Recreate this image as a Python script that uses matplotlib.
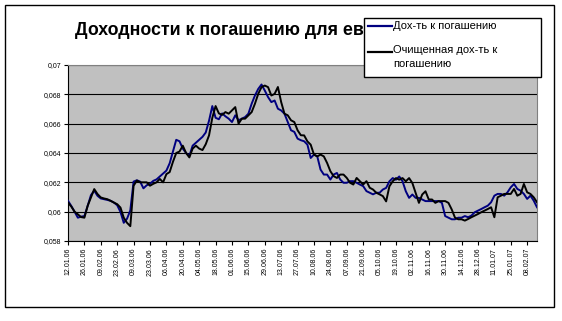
import numpy as np
import matplotlib
matplotlib.use("Agg")
import matplotlib.pyplot as plt
from matplotlib.patches import Rectangle
from matplotlib.lines import Line2D

plt.rcParams['font.family'] = ['Liberation Sans', 'DejaVu Sans']

# samples every 2 business days, 12.01.06 .. ~14.02.07
ytm = [0.06074, 0.06039, 0.06000, 0.05959, 0.05966, 0.05970, 0.06040, 0.06113, 0.06143, 0.06108,
       0.06090, 0.06085, 0.06080, 0.06074, 0.06062, 0.06044, 0.05998, 0.05924, 0.05952, 0.06009,
       0.06205, 0.06214, 0.06205, 0.06159, 0.06180, 0.06190, 0.06210, 0.06220, 0.06240, 0.06260,
       0.06280, 0.06330, 0.06410, 0.06490, 0.06480, 0.06430, 0.06400, 0.06380, 0.06450, 0.06470,
       0.06490, 0.06510, 0.06540, 0.06620, 0.06720, 0.06640, 0.06630, 0.06670, 0.06650, 0.06634,
       0.06611, 0.06657, 0.06623, 0.06634, 0.06645, 0.06668, 0.06736, 0.06792, 0.06837, 0.06867,
       0.06826, 0.06781, 0.06747, 0.06758, 0.06702, 0.06690, 0.06668, 0.06611, 0.06555, 0.06544,
       0.06498, 0.06487, 0.06480, 0.06457, 0.06366, 0.06389, 0.06377, 0.06287, 0.06253, 0.06253,
       0.06219, 0.06253, 0.06264, 0.06219, 0.06197, 0.06197, 0.06208, 0.06208, 0.06197, 0.06185,
       0.06174, 0.06140, 0.06129, 0.06118, 0.06129, 0.06129, 0.06151, 0.06162, 0.06207, 0.06229,
       0.06218, 0.06240, 0.06207, 0.06139, 0.06094, 0.06117, 0.06094, 0.06094, 0.06083, 0.06072,
       0.06072, 0.06072, 0.06072, 0.06072, 0.06060, 0.05970, 0.05959, 0.05948, 0.05948, 0.05959,
       0.05959, 0.05970, 0.05962, 0.05973, 0.05996, 0.06007, 0.06018, 0.06030, 0.06041, 0.06064,
       0.06109, 0.06121, 0.06121, 0.06109, 0.06132, 0.06166, 0.06189, 0.06155, 0.06143, 0.06121,
       0.06087, 0.06109, 0.06075, 0.06030]

ytm_clean = [0.06062, 0.06035, 0.06000, 0.05982, 0.05963, 0.05959, 0.06040, 0.06097, 0.06154, 0.06120,
             0.06097, 0.06090, 0.06085, 0.06074, 0.06062, 0.06051, 0.06028, 0.05959, 0.05924, 0.05901,
             0.06177, 0.06212, 0.06200, 0.06200, 0.06200, 0.06177, 0.06190, 0.06200, 0.06223, 0.06200,
             0.06256, 0.06270, 0.06340, 0.06400, 0.06410, 0.06450, 0.06400, 0.06370, 0.06430, 0.06450,
             0.06430, 0.06420, 0.06460, 0.06520, 0.06640, 0.06720, 0.06670, 0.06660, 0.06679, 0.06668,
             0.06690, 0.06713, 0.06600, 0.06634, 0.06634, 0.06657, 0.06679, 0.06736, 0.06803, 0.06849,
             0.06860, 0.06849, 0.06792, 0.06803, 0.06850, 0.06747, 0.06668, 0.06657, 0.06623, 0.06611,
             0.06555, 0.06521, 0.06520, 0.06479, 0.06457, 0.06389, 0.06377, 0.06389, 0.06377, 0.06332,
             0.06276, 0.06242, 0.06230, 0.06253, 0.06253, 0.06230, 0.06197, 0.06185, 0.06230, 0.06208,
             0.06185, 0.06208, 0.06163, 0.06151, 0.06129, 0.06118, 0.06106, 0.06070, 0.06173, 0.06207,
             0.06229, 0.06218, 0.06229, 0.06207, 0.06229, 0.06195, 0.06128, 0.06060, 0.06117, 0.06139,
             0.06083, 0.06083, 0.06060, 0.06072, 0.06072, 0.06072, 0.06060, 0.06015, 0.05959, 0.05948,
             0.05948, 0.05939, 0.05950, 0.05962, 0.05973, 0.05984, 0.05996, 0.06007, 0.06018, 0.06030,
             0.05962, 0.06098, 0.06109, 0.06121, 0.06121, 0.06121, 0.06155, 0.06109, 0.06121, 0.06189,
             0.06132, 0.06121, 0.06098, 0.06064]

date_labels = ['12.01.06', '26.01.06', '09.02.06', '23.02.06', '09.03.06', '23.03.06', '06.04.06',
               '20.04.06', '04.05.06', '18.05.06', '01.06.06', '15.06.06', '29.06.06', '13.07.06',
               '27.07.06', '10.08.06', '24.08.06', '07.09.06', '21.09.06', '05.10.06', '19.10.06',
               '02.11.06', '16.11.06', '30.11.06', '14.12.06', '28.12.06', '11.01.07', '25.01.07',
               '08.02.07']
y_ticks = [0.058, 0.06, 0.062, 0.064, 0.066, 0.068, 0.07]

title = 'Доходности к погашению для еврооблигаций'
legend_labels = ['Дох-ть к погашению', 'Очищенная дох-ть к\nпогашению']

W, H = 562, 321
fig = plt.figure(figsize=(W / 100, H / 100), dpi=100)
fig.patch.set_facecolor('white')


def fx(px):
    return px / W


def fy(py):
    return 1 - py / H


ax = fig.add_axes([fx(68), fy(241), fx(537) - fx(68), fy(65) - fy(241)])
ax.set_facecolor('#c0c0c0')

x = np.arange(len(ytm))
ax.plot(x, ytm, color='#000080', lw=1.4, zorder=3)
ax.plot(x, ytm_clean, color='black', lw=1.4, zorder=4)

ax.set_xlim(0, len(ytm) - 1)
ax.set_ylim(0.058, 0.07)
ax.set_yticks(y_ticks)
ax.set_yticklabels([('%g' % v).replace('.', ',') for v in y_ticks], fontsize=5)
ax.set_xticks(np.arange(len(date_labels)) * 5)
ax.set_xticklabels(date_labels, rotation=90, fontsize=5)
ax.tick_params(axis='both', length=3, width=0.8, pad=2, colors='black')
ax.grid(axis='y', color='black', lw=0.8)
ax.set_axisbelow(True)
for s in ['top', 'right']:
    ax.spines[s].set_color('#808080')
for s in ['left', 'bottom']:
    ax.spines[s].set_color('black')

# title (partly covered by the legend box, as in the original)
fig.text(fx(75), fy(30), title, ha='left', va='center', fontsize=12.8,
         fontweight='bold', zorder=1)

# legend box
fig.patches.append(Rectangle((fx(364), fy(77)), fx(541) - fx(364), fy(18) - fy(77),
                             transform=fig.transFigure, facecolor='white',
                             edgecolor='black', lw=1, zorder=5))
fig.lines.append(Line2D([fx(368), fx(392)], [fy(26), fy(26)], color='#000080', lw=1.6,
                        transform=fig.transFigure, zorder=6))
fig.lines.append(Line2D([fx(368), fx(392)], [fy(52), fy(52)], color='black', lw=1.6,
                        transform=fig.transFigure, zorder=6))
fig.text(fx(393), fy(26), legend_labels[0], ha='left', va='center', fontsize=8, zorder=7)
fig.text(fx(393), fy(45), legend_labels[1], ha='left', va='top', fontsize=8, zorder=7,
         linespacing=1.45)

# outer chart border
fig.patches.append(Rectangle((fx(5), fy(307)), fx(554) - fx(5), fy(5) - fy(307),
                             transform=fig.transFigure, fill=False,
                             edgecolor='black', lw=1, zorder=8))

fig.savefig('out.png', dpi=100)
